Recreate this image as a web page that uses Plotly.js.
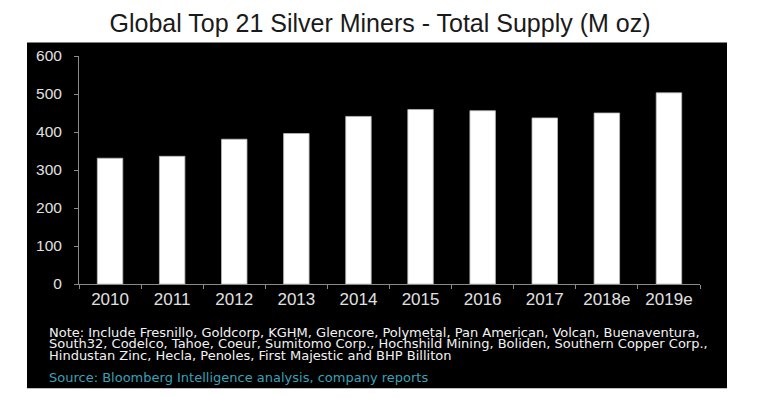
<!DOCTYPE html>
<html>
<head>
<meta charset="utf-8">
<script src="https://cdn.plot.ly/plotly-3.0.1.min.js"></script>
<style>html,body{margin:0;padding:0;background:#fff;}#chart{width:760px;height:398px;}</style>
</head>
<body>
<div id="chart"></div>
<script>
// ---- data ----
var years = ["2010", "2011", "2012", "2013", "2014", "2015", "2016", "2017", "2018e", "2019e"];
var supply = [331, 336, 381, 396, 441, 459, 456, 437, 450, 503];
var titleText = "Global Top 21 Silver Miners - Total Supply (M oz)";
var noteLines = [
  "Note: Include Fresnillo, Goldcorp, KGHM, Glencore, Polymetal, Pan American, Volcan, Buenaventura,",
  "South32, Codelco, Tahoe, Coeur, Sumitomo Corp., Hochshild Mining, Boliden, Southern Copper Corp.,",
  "Hindustan Zinc, Hecla, Penoles, First Majestic and BHP Billiton"
];
var sourceText = "Source: Bloomberg Intelligence analysis, company reports";

// ---- layout geometry (pixels) ----
var W = 760, H = 398;
var L = 79, R = 700, T = 55.5, B = 284.3;
function px2x(p) { return (p - L) / (R - L); }
function py2y(p) { return (B - p) / (B - T); }

var font = "Liberation Sans, Arial, sans-serif";
var wideFont = "DejaVu Sans, Verdana, sans-serif";

var annotations = [];
var noteY = [332.5, 344.5, 356.5];
noteLines.forEach(function (t, i) {
  annotations.push({
    text: t, xref: "paper", yref: "paper", x: px2x(47), y: py2y(noteY[i]),
    xanchor: "left", yanchor: "middle", showarrow: false,
    font: { family: wideFont, size: 13, color: "#f2f2f2" }
  });
});
annotations.push({
  text: sourceText, xref: "paper", yref: "paper", x: px2x(47), y: py2y(378.5),
  xanchor: "left", yanchor: "middle", showarrow: false,
  font: { family: wideFont, size: 13, color: "#3aa0b8" }
});

var data = [{
  type: "bar", x: years, y: supply,
  marker: { color: "#ffffff", line: { color: "#bbbbbb", width: 0.8 } },
  hoverinfo: "x+y"
}];

var layout = {
  width: W, height: H,
  margin: { l: L, r: W - R, t: T, b: H - B, pad: 0 },
  paper_bgcolor: "#ffffff",
  plot_bgcolor: "rgba(0,0,0,0)",
  showlegend: false,
  bargap: 0.59,
  title: {
    text: titleText, x: 0.5, xref: "container", xanchor: "center",
    y: 1 - 23 / H, yref: "container", yanchor: "middle",
    font: { family: font, size: 25, color: "#1a1a1a" }
  },
  xaxis: {
    type: "category", tickson: "boundaries",
    ticks: "outside", ticklen: 4, tickcolor: "#8a8a8a", tickwidth: 1,
    showline: true, linecolor: "#8a8a8a", linewidth: 1,
    showgrid: false, zeroline: false,
    tickfont: { family: font, size: 17, color: "#e0e0e0" }
  },
  yaxis: {
    range: [0, 600], dtick: 100, tick0: 0,
    ticks: "outside", ticklen: 4, tickcolor: "#8a8a8a", tickwidth: 1,
    showline: true, linecolor: "#8a8a8a", linewidth: 1,
    showgrid: false, zeroline: false, ticklabelstandoff: 9,
    tickfont: { family: font, size: 15.5, color: "#e0e0e0" }
  },
  shapes: [{
    type: "rect", xref: "paper", yref: "paper", layer: "below",
    x0: px2x(27), x1: px2x(727), y0: py2y(389), y1: py2y(42),
    fillcolor: "#000000", line: { width: 0 }
  }],
  annotations: annotations
};

Plotly.newPlot("chart", data, layout, { displayModeBar: false, staticPlot: true });
</script>
</body>
</html>
